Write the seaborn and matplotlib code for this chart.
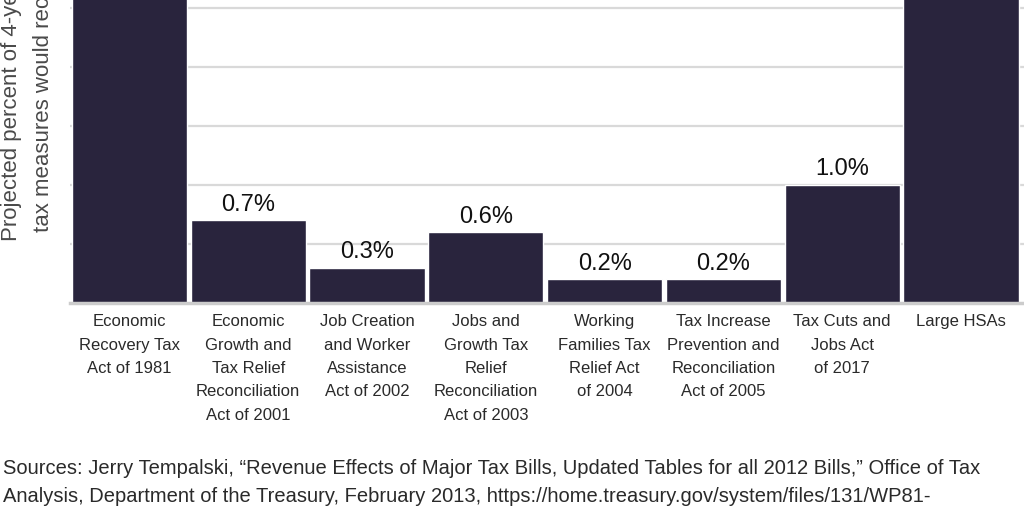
import pandas as pd
import seaborn as sns
import matplotlib.pyplot as plt

# Bills and the share of their 4-year cost recouped (percent)
bills = [
    "Economic\nRecovery Tax\nAct of 1981",
    "Economic\nGrowth and\nTax Relief\nReconciliation\nAct of 2001",
    "Job Creation\nand Worker\nAssistance\nAct of 2002",
    "Jobs and\nGrowth Tax\nRelief\nReconciliation\nAct of 2003",
    "Working\nFamilies Tax\nRelief Act\nof 2004",
    "Tax Increase\nPrevention and\nReconciliation\nAct of 2005",
    "Tax Cuts and\nJobs Act\nof 2017",
    "Large HSAs",
]
recouped = [2.9, 0.7, 0.3, 0.6, 0.2, 0.2, 1.0, 3.0]
labels = ["", "0.7%", "0.3%", "0.6%", "0.2%", "0.2%", "1.0%", ""]

ylabel_1 = "Projected percent of 4-year revenue cost that"
ylabel_2 = "tax measures would recoup"
sources = ("Sources: Jerry Tempalski, \u201cRevenue Effects of Major Tax Bills, Updated Tables for all 2012 Bills,\u201d Office of Tax\n"
           "Analysis, Department of the Treasury, February 2013, https://home.treasury.gov/system/files/131/WP81-")

df = pd.DataFrame({"bill": bills, "recouped": recouped})

sns.set_theme(style="white")
plt.rcParams["font.family"] = ["Liberation Sans", "DejaVu Sans"]

fig = plt.figure(figsize=(10.24, 5.12), dpi=100)
ax = fig.add_axes([70 / 1024, 209 / 512, 954 / 1024, 303 / 512])

sns.barplot(data=df, x="bill", y="recouped", color="#29243d", saturation=1,
            width=0.97, ax=ax)

for patch, lab in zip(ax.patches, labels):
    if lab:
        ax.text(patch.get_x() + patch.get_width() / 2, patch.get_height() + 0.04, lab,
                ha="center", va="bottom", fontsize=17, color="#111111")

ax.set_xlim(-0.5, 7.53)
ax.set_ylim(0, 2.57)
ax.set_yticks([0.5, 1.0, 1.5, 2.0, 2.5])
ax.yaxis.grid(True, color="#d9d9d9", linewidth=1.6)
ax.set_axisbelow(True)
ax.tick_params(axis="y", left=False, labelleft=False)
ax.tick_params(axis="x", bottom=False, pad=2, labelsize=12, labelcolor="#2a2a2a")
for t in ax.get_xticklabels():
    t.set_linespacing(1.7)
    t.set_verticalalignment("top")
for side in ["top", "right", "left"]:
    ax.spines[side].set_visible(False)
ax.spines["bottom"].set_color("#cccccc")
ax.spines["bottom"].set_linewidth(2.5)
ax.set_xlabel("")
ax.set_ylabel("")

fig.text(12 / 1024, 1 - 241 / 512, ylabel_1, rotation=90, ha="center", va="bottom",
         fontsize=16, color="#4a4a4a")
fig.text(44 / 1024, 1 - 232 / 512, ylabel_2, rotation=90, ha="center", va="bottom",
         fontsize=16, color="#4a4a4a")

fig.text(3 / 1024, 1 - 459 / 512, sources, ha="left", va="top", fontsize=14.5,
         color="#2a2a2a", linespacing=1.6)

fig.savefig("out.png", dpi=100)
